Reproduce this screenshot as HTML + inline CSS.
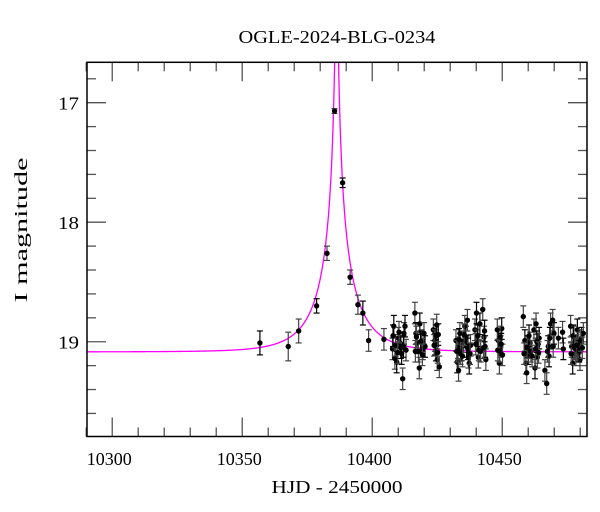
<!DOCTYPE html>
<html><head><meta charset="utf-8"><style>
body{margin:0;background:#fff;}
svg{display:block;font-family:"Liberation Serif",serif;}
</style></head><body>
<svg id="chart" width="600" height="512" xmlns="http://www.w3.org/2000/svg">
<text x="337" y="43" font-size="18" text-anchor="middle" textLength="197" lengthAdjust="spacingAndGlyphs">OGLE-2024-BLG-0234</text>
<text x="337" y="493" font-size="18" text-anchor="middle" textLength="131" lengthAdjust="spacingAndGlyphs">HJD - 2450000</text>
<text x="0" y="0" font-size="18" text-anchor="middle" textLength="145" lengthAdjust="spacingAndGlyphs" transform="translate(27,230) rotate(-90)">I magnitude</text>
<g id="ticks"></g>
<g id="curve"></g>
<g id="points"></g>
<rect x="87" y="62.3" width="500" height="374.2" fill="none" stroke="#000" stroke-width="1.5"/>
</svg>
<script>
const xTicks=[10300,10350,10400,10450];
const yTicks=[17,18,19];
const hjd=[10356.8,10367.7,10371.7,10378.6,10382.6,10385.5,10388.6,10391.5,10394.5,10396.4,10398.6,
10404.5,10408.3,10407.8,10408.7,10409.4,10410.0,10410.7,10411.3,10411.7,10412.2,10412.6,10413.0,
10416.4,10416.8,10417.3,10418.1,10418.3,10419.0,10419.9,10420.3,
10423.5,10424.1,10424.5,10424.8,10425.0,10425.4,10425.8,
10432.2,10432.7,10433.2,10433.7,10434.4,10435.0,10435.6,10436.0,10436.6,10437.0,10437.3,10437.8,
10439.5,10440.1,10440.4,10440.8,10441.4,10442.5,10443.0,10443.4,10443.7,
10448.1,10448.5,10448.9,10449.4,10449.8,10450.1,
10458.1,10458.7,10459.1,10459.4,10460.0,10460.7,10462.2,10462.6,10463.0,10463.5,10464.2,
10466.4,10467.1,10467.7,10468.6,10469.4,10469.9,10471.6,10473.2,10473.5,
10476.3,10476.7,10477.1,10477.6,10478.3,10478.9,10479.4,10479.9,10480.5,10481.2,
10409.0,10411.0,10417.8,10419.5,10424.2,10433.0,10434.0,10436.3,10441.0,10449.0,10459.8,10461.0,10463.8,10468.0,10477.9,10479.0,
10408.0,10409.8,10410.3,10412.0,10416.6,10417.0,10418.6,10419.3,10423.8,10424.6,10425.2,
10432.5,10433.4,10434.7,10435.3,10436.8,10437.6,10439.8,10440.6,10441.7,10442.8,10443.2,
10448.3,10449.2,10449.6,10458.4,10459.6,10460.3,10461.5,10462.8,10463.3,10464.0,10467.4,10468.3,10469.6,
10476.5,10477.3,10478.1,10478.6,10479.6,10480.2,10480.8];
const mag=[19.01,19.04,18.91,18.70,18.26,17.07,17.67,18.46,18.69,18.76,18.99,
18.98,18.87,19.06,19.14,19.17,18.97,19.01,19.10,19.31,18.93,18.87,19.07,
18.76,18.93,19.01,19.22,18.85,18.99,18.93,19.04,
18.90,18.99,19.07,18.86,19.15,18.94,19.21,
18.99,19.17,19.24,18.93,19.07,19.00,18.87,18.96,18.82,19.13,19.18,19.03,
18.90,18.76,18.99,19.13,18.85,18.73,18.96,19.04,19.15,
18.90,18.99,19.18,19.04,18.89,19.11,
18.79,18.99,19.18,19.26,19.10,19.01,18.90,19.22,18.85,19.13,18.97,
19.24,19.35,19.04,18.85,18.82,18.93,18.97,18.92,19.06,
18.87,19.04,19.18,18.96,19.11,18.90,19.01,19.15,18.97,18.93,
19.03,19.05,19.08,19.06,19.02,19.05,19.10,19.04,19.07,19.08,19.04,19.08,19.02,19.12,19.05,19.07,
18.95,19.09,18.92,19.04,19.08,18.96,19.00,19.11,19.03,18.95,19.09,
19.08,18.98,19.12,18.94,19.06,19.10,19.02,18.95,19.08,19.05,18.91,
19.07,18.96,19.02,19.10,19.05,18.95,19.12,19.06,19.00,19.09,19.08,18.97,19.04,
19.10,18.95,19.06,19.03,19.08,18.99,19.05];
const magErr=[0.10,0.12,0.10,0.06,0.06,0.02,0.04,0.06,0.08,0.10,0.09];
const modelT0=[10386.3], modelTE=[16], modelU0=[0.02], modelFs=[0.45], modelBase=[19.085];

const X0=87,X1=587,Y0=62.3,Y1=436.5,T0=10290.3,T1=10482.6,M0=16.662,M1=19.793;
const xs=t=>X0+(t-T0)/(T1-T0)*(X1-X0);
const ys=m=>Y0+(m-M0)/(M1-M0)*(Y1-Y0);
const NS="http://www.w3.org/2000/svg";
function mk(tag,attrs,parent){const e=document.createElementNS(NS,tag);for(const k in attrs)e.setAttribute(k,attrs[k]);parent.appendChild(e);return e;}
const tg=document.getElementById('ticks');
for(let t=10290;t<=10482;t+=10){
  const major=t%50===0, L=major?19:9, x=xs(t);
  const a=mk('line',{x1:x,y1:Y1,x2:x,y2:Y1-L,stroke:'#555','stroke-width':1.3},tg);
  
  
  const b=mk('line',{x1:x,y1:Y0,x2:x,y2:Y0+L,stroke:'#555','stroke-width':1.3},tg);
  
  
}
xTicks.forEach(t=>{
  const e=mk('text',{x:xs(t)-3,y:465,'font-size':18,'text-anchor':'middle',textLength:45,lengthAdjust:'spacingAndGlyphs'},tg);e.textContent=t;
  
  
});
for(let i=0;i<16;i++){
  const m=16.8+i*0.2; if(m>M1)break;
  const major=Math.abs(m-Math.round(m))<1e-6, L=major?19:9, y=ys(m);
  const a=mk('line',{x1:X0,y1:y,x2:X0+L,y2:y,stroke:'#555','stroke-width':1.3},tg);
  
  
  const b=mk('line',{x1:X1,y1:y,x2:X1-L,y2:y,stroke:'#555','stroke-width':1.3},tg);
  
  
}
yTicks.forEach(m=>{
  const e=mk('text',{x:79,y:ys(m)+7,'font-size':18,'text-anchor':'end',textLength:21,lengthAdjust:'spacingAndGlyphs'},tg);e.textContent=m;
  
  
});
function model(t){const u=Math.hypot(modelU0[0],(t-modelT0[0])/modelTE[0]);const A=(u*u+2)/(u*Math.sqrt(u*u+4));return modelBase[0]-2.5*Math.log10(modelFs[0]*A+1-modelFs[0]);}
let d='';
for(let t=T0;t<=T1;t+=0.05){const m=Math.max(model(t),M0-0.05);d+=(d?'L':'M')+xs(t).toFixed(2)+','+ys(m).toFixed(2);}
const cg=document.getElementById('curve');
const svg=document.getElementById('chart');
const clip=mk('clipPath',{id:'pc'},svg);mk('rect',{x:X0,y:Y0,width:X1-X0,height:Y1-Y0},clip);
cg.setAttribute('clip-path','url(#pc)');
const p=mk('path',{d:d,fill:'none',stroke:'#f0f','stroke-width':1.3},cg);


const pg=document.getElementById('points');
hjd.forEach((t,i)=>{
  const x=xs(t),y=ys(mag[i]),er=i<magErr.length?magErr[i]:0.09,dy=ys(mag[i]+er)-y;
  const g=mk('g',{},pg);
  
  
  const col=i%3===0?'#000':'#444';
  mk('line',{x1:x,y1:y-dy,x2:x,y2:y+dy,stroke:col,'stroke-width':1.2},g);
  mk('line',{x1:x-3,y1:y-dy,x2:x+3,y2:y-dy,stroke:col,'stroke-width':1.2},g);
  mk('line',{x1:x-3,y1:y+dy,x2:x+3,y2:y+dy,stroke:col,'stroke-width':1.2},g);
  mk('circle',{cx:x,cy:y,r:2.7,fill:'#000'},g);
});
</script>
</body></html>
